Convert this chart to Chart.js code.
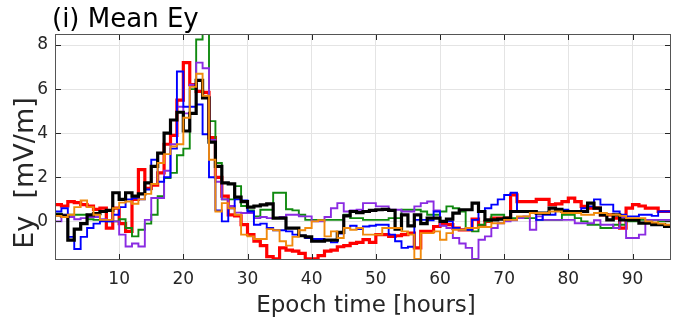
<!DOCTYPE html>
<html>
<head>
<meta charset="utf-8">
<script src="https://cdn.jsdelivr.net/npm/chart.js@4.4.1/dist/chart.umd.min.js"></script>
<style>
  html, body { margin: 0; padding: 0; background: #fff; }
  #wrap { width: 674px; height: 322px; }
</style>
</head>
<body>
<div id="wrap"><canvas id="eyChart" width="674" height="322"></canvas></div>
<script>
// tick labels
const xTicks = [10, 20, 30, 40, 50, 60, 70, 80, 90];
const yTicks = [0, 2, 4, 6, 8];

// hourly bin edges 0..96
const hours = Array.from({ length: 97 }, (_, i) => i);

// mean Ey per hour bin [mV/m]
const redEy = [
  0.76, 0.7, 0.9, 0.85, 0.76, 0.7, 0.55, 0.6, -0.3, 0.6,
  -0.1, -0.45, 1.0, 2.35, 1.5, 1.65, 2.2, 3.5, 3.9, 5.5,
  7.2, 6.2, 5.9, 5.85, 3.8, 2.0, 1.15, 0.3, 0.25, -0.15,
  -0.6, -0.9, -1.1, -1.6, -1.7, -1.2, -1.3, -1.35, -1.45, -1.7,
  -1.7, -1.55, -1.35, -1.3, -1.15, -1.1, -1.0, -0.95, -0.83, -0.95,
  -0.6, -0.6, -0.68, -0.65, -0.6, -0.53, -1.2, -0.45, -0.45, -0.23,
  -0.15, -0.15, -0.3, -0.38, -0.38, 0.1, -0.23, 0.0, 0.15, 0.15,
  0.15, 1.2, 0.9, 0.9, 0.9, 1.0, 1.0, 0.76, 0.8, 0.9,
  1.06, 0.9, 0.68, 0.6, 0.6, 0.3, 0.3, 0.15, -0.3, 0.6,
  0.76, 0.7, 0.6, 0.6, 0.45, 0.45
];
const blackEy = [
  0.3, 0.25, -0.85, -0.35, -0.1, 0.3, 0.35, 0.45, 0.5, 1.3,
  1.0, 1.3, 1.15, 1.25, 1.75, 2.5, 3.1, 4.0, 4.6, 4.95,
  4.1, 4.9, 6.4, 5.6, 3.6, 2.5, 1.75, 1.7, 1.1, 0.9,
  0.65, 0.7, 0.75, 0.8, 0.15, 0.15, -0.3, -0.3, -0.65, -0.7,
  -0.9, -0.9, -0.85, -0.85, -0.5, 0.25, 0.45, 0.4, 0.45, 0.5,
  0.53, 0.55, 0.5, -0.35, 0.3, -0.2, 0.3, -0.1, 0.15, 0.15,
  0.0, 0.1, 0.38, 0.53, 0.53, 0.83, 0.45, 0.07, 0.07, 0.1,
  0.15, 0.45, 0.45, 0.45, 0.45, 0.38, 0.38, 0.6, 0.55, 0.45,
  0.45, 0.45, 0.45, 0.83, 0.6, 0.3, 0.07, 0.3, 0.07, 0.07,
  0.07, -0.08, -0.08, -0.15, -0.15, -0.23
];
const blueEy = [
  0.45, 0.6, -0.7, -1.25, -0.7, -0.3, -0.1, 0.0, 0.0, 0.3,
  0.65, 1.0, 1.05, 1.0, 1.45, 2.8, 1.8, 2.0, 3.3, 6.8,
  5.2, 5.2, 5.3, 3.95, 2.0, 0.5, 0.0, 0.6, 1.0, 0.95,
  0.45, -0.15, -0.1, -0.3, -0.4, -0.4, -0.45, -0.6, -0.65, -0.75,
  -0.8, -0.8, -0.85, -0.95, -0.55, -0.3, -0.2, -0.35, -0.23, -0.2,
  -0.15, -0.15, -0.6, -0.9, -1.2, -1.15, 0.07, 0.07, 0.05, 0.45,
  0.0, 0.0, -0.3, -0.38, -0.38, 0.07, 0.45, 0.6, 0.76, 1.0,
  1.2, 1.3, 0.45, 0.45, 0.4, 0.07, 0.3, 0.3, 0.5, 0.53,
  0.45, 0.45, 0.6, 0.68, 1.0, 0.76, 0.76, 0.45, 0.3, 0.23,
  0.23, 0.3, 0.3, 0.25, 0.45, 0.45
];
const greenEy = [
  0.35, 0.3, 0.3, 0.3, 0.3, 0.1, 0.07, 0.07, 0.0, 0.0,
  0.1, -0.3, -0.68, -0.38, -0.1, 0.3, 1.14, 1.97, 2.2, 3.0,
  3.3, 6.0, 8.25, 8.6, 4.55, 2.65, 1.0, 1.0, 1.6, 0.7,
  0.5, 0.23, 0.53, 0.53, 1.3, 1.3, 0.55, 0.5, 0.3, 0.07,
  0.07, 0.07, 0.07, 0.07, 0.07, 0.3, 0.15, 0.15, 0.07, 0.07,
  0.07, 0.07, 0.15, 0.15, 0.53, 0.53, 0.53, 0.45, 0.3, 0.3,
  0.45, 0.68, 0.6, 0.45, -0.38, -0.45, -0.15, 0.0, 0.3, 0.3,
  0.07, 0.15, 0.15, 0.15, 0.15, 0.07, 0.07, 0.07, 0.07, 0.3,
  0.3, 0.15, 0.0, -0.15, -0.15, -0.3, -0.3, -0.15, -0.15, 0.0,
  0.0, 0.07, 0.07, 0.07, 0.0, 0.0
];
const purpleEy = [
  0.0, 0.3, 0.2, 0.1, 0.15, 0.2, 0.2, 0.1, 0.05, 0.0,
  -0.6, -1.14, -1.0, -1.14, 0.07, 1.06, 1.06, 2.3, 3.5, 5.2,
  4.9, 6.2, 7.2, 6.95, 3.7, 1.8, 1.0, 0.7, 0.4, 0.38,
  0.38, 0.15, 0.2, 0.15, 0.15, 0.2, 0.3, 0.3, 0.23, 0.23,
  0.0, 0.0, 0.2, 0.6, 0.83, 0.45, 0.5, 0.53, 0.83, 0.83,
  0.68, 0.68, 0.53, 0.53, 0.45, 0.45, 0.68, 0.83, 0.9, 0.5,
  -0.2, -0.3, -0.75, -1.0, -1.2, -1.7, -0.83, -0.68, -0.3, -0.08,
  0.0, 0.05, 0.15, 0.23, -0.38, 0.23, 0.07, 0.07, 0.07, 0.07,
  0.07, -0.08, -0.08, -0.08, 0.05, -0.15, -0.15, -0.3, 0.2, -0.75,
  -0.75, -0.6, 0.07, 0.07, 0.07, 0.07
];
const orangeEy = [
  0.25, 0.2, 0.3, 0.65, 0.95, 0.65, 0.3, 0.07, 0.07, 0.6,
  0.85, 0.9, 0.8, 1.0, 1.25, 1.7, 2.65, 3.05, 3.4, 3.5,
  4.7, 6.1, 6.7, 5.7, 2.8, 0.45, 0.83, 0.6, 0.3, -0.6,
  -0.68, -0.8, -0.8, -0.35, -0.4, -0.9, -1.1, -0.7, -0.4, -0.3,
  0.0, 0.05, -0.68, -0.45, -0.75, -0.3, -0.38, -0.3, -0.6, -0.6,
  -0.6, -0.3, -0.3, -0.3, -0.45, -0.6, -1.7, -0.53, -0.53, -0.45,
  -0.83, -0.53, -0.38, -0.38, -0.3, -0.3, -0.25, -0.25, -0.08, -0.08,
  0.07, 0.07, 0.23, 0.23, 0.38, 0.38, 0.38, 0.45, 0.45, 0.38,
  0.38, 0.38, 0.3, 0.3, 0.38, 0.38, 0.3, 0.3, 0.25, 0.15,
  0.15, 0.15, 0.0, -0.05, -0.1, -0.15
];

const axisColor = '#262626';

// step line: each bin value is held from its left edge to the next edge
function stepPoints(values) {
  return hours.map((h, i) => ({ x: h, y: values[Math.min(i, values.length - 1)] }));
}

function series(values, color, width) {
  return {
    data: stepPoints(values),
    borderColor: color,
    borderWidth: width,
    stepped: 'before', // chart.js 'before' = horizontal first, then vertical
    pointRadius: 0,
    fill: false,
    borderJoinStyle: 'miter'
  };
}

// box, inward ticks and the text, MATLAB style
const matlabAxes = {
  id: 'matlabAxes',
  afterDatasetsDraw(chart) {
    const { ctx, chartArea: a, scales: { x, y } } = chart;
    ctx.save();
    ctx.strokeStyle = axisColor;
    ctx.lineWidth = 1;
    ctx.beginPath();
    xTicks.forEach(v => {
      const px = Math.round(x.getPixelForValue(v)) + 0.5;
      ctx.moveTo(px, a.bottom); ctx.lineTo(px, a.bottom - 6);
      ctx.moveTo(px, a.top); ctx.lineTo(px, a.top + 6);
    });
    yTicks.forEach(v => {
      const py = Math.round(y.getPixelForValue(v)) + 0.5;
      ctx.moveTo(a.left, py); ctx.lineTo(a.left + 6, py);
      ctx.moveTo(a.right, py); ctx.lineTo(a.right - 6, py);
    });
    ctx.stroke();
    ctx.strokeStyle = '#555';
    ctx.strokeRect(Math.round(a.left) + 0.5, Math.round(a.top) + 0.5,
      Math.round(a.right - a.left) - 1, Math.round(a.bottom - a.top) - 1);
    ctx.restore();
  },
  afterDraw(chart) {
    const { ctx } = chart;
    ctx.save();
    ctx.fillStyle = '#000';
    ctx.font = '26px "DejaVu Sans"';
    ctx.textAlign = 'left';
    ctx.textBaseline = 'alphabetic';
    ctx.fillText('(i) Mean Ey', 52, 27);

    ctx.fillStyle = axisColor;
    ctx.font = '23px "DejaVu Sans"';
    ctx.textAlign = 'center';
    ctx.fillText('Epoch time [hours]', 366, 312);

    ctx.translate(33, 173);
    ctx.rotate(-Math.PI / 2);
    ctx.font = '27px "DejaVu Sans"';
    ctx.fillText('Ey  [mV/m]', 0, 0);
    ctx.restore();
  }
};

new Chart(document.getElementById('eyChart'), {
  type: 'line',
  data: {
    datasets: [
      series(orangeEy, '#f08a0c', 1.9),
      series(blackEy, '#000000', 3.2),
      series(blueEy, '#0000ff', 1.9),
      series(purpleEy, '#8a2be2', 1.9),
      series(greenEy, '#108a10', 1.9),
      series(redEy, '#ff0000', 3.2)
    ]
  },
  options: {
    responsive: false,
    animation: false,
    devicePixelRatio: 1,
    layout: { padding: { top: 34, right: 3, left: 0, bottom: 0 } },
    plugins: { legend: { display: false }, tooltip: { enabled: false } },
    scales: {
      x: {
        type: 'linear',
        min: 0,
        max: 96,
        afterBuildTicks: s => { s.ticks = xTicks.map(v => ({ value: v })); },
        afterFit: s => { s.height = 62; },
        grid: { color: '#e4e4e4', lineWidth: 1, drawTicks: false },
        border: { display: false },
        ticks: { color: axisColor, font: { size: 17, family: 'DejaVu Sans' }, padding: 9, maxRotation: 0 }
      },
      y: {
        type: 'linear',
        min: -1.75,
        max: 8.5,
        afterBuildTicks: s => { s.ticks = yTicks.map(v => ({ value: v })); },
        afterFit: s => { s.width = 55; },
        grid: { color: '#e4e4e4', lineWidth: 1, drawTicks: false },
        border: { display: false },
        ticks: { color: axisColor, font: { size: 17, family: 'DejaVu Sans' }, padding: 7 }
      }
    }
  },
  plugins: [matlabAxes]
});
</script>
</body>
</html>
